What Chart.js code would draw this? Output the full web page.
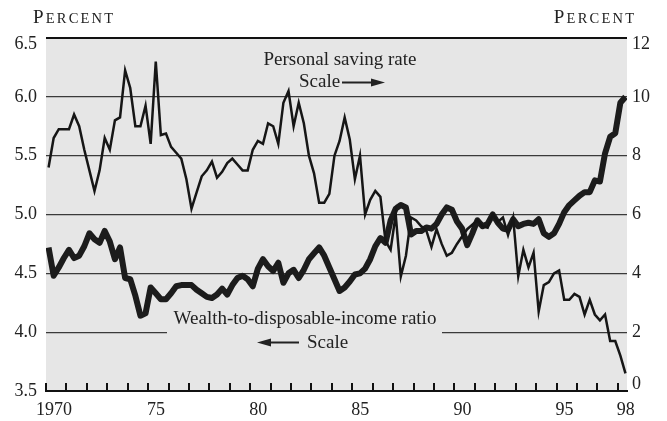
<!DOCTYPE html>
<html>
<head>
<meta charset="utf-8">
<script src="https://cdn.jsdelivr.net/npm/chart.js@4.4.1/dist/chart.umd.min.js"></script>
<style>
  html, body { margin: 0; padding: 0; background: #fff; }
  #wrap { width: 667px; height: 421px; }
</style>
</head>
<body>
<div id="wrap"><canvas id="chart" width="667" height="421"></canvas></div>
<script>
// quarterly, 1970Q1 - 1998Q2
const firstYear = 1970;

// personal saving rate, percent (right scale)
const savingRate = [
  7.6, 8.6, 8.9, 8.9,   8.9, 9.4, 9.0, 8.2,   7.5, 6.8, 7.5, 8.6,   8.2, 9.2, 9.3, 10.9,
  10.3, 9.0, 9.0, 9.7,  8.4, 11.2, 8.7, 8.75, 8.3, 8.1, 7.9, 7.2,   6.2, 6.75, 7.3, 7.5,
  7.8, 7.25, 7.45, 7.75, 7.9, 7.7, 7.5, 7.5, 8.2, 8.5, 8.4, 9.1,   9.0, 8.4, 9.8, 10.2,
  9.0, 9.8, 9.1, 8.0,   7.4, 6.4, 6.4, 6.7,   8.0, 8.5, 9.3, 8.55,  7.2, 8.0, 6.0, 6.5,
  6.8, 6.6, 5.1, 4.8,   6.0, 3.9, 4.6, 5.9,   5.8, 5.6, 5.45, 4.9,  5.5, 5.0, 4.6, 4.7,
  5.0, 5.25, 5.5, 5.65, 5.8, 5.6, 5.55, 6.0, 5.75, 5.9, 5.3, 5.9,  3.9, 4.8, 4.2, 4.7,
  2.7, 3.6, 3.7, 4.0,   4.1, 3.1, 3.1, 3.3,   3.2, 2.6, 3.1, 2.6,   2.4, 2.6, 1.7, 1.7,
  1.2, 0.6
];

// wealth-to-disposable-income ratio (left scale)
const wealthRatio = [
  4.72, 4.48, 4.55, 4.63, 4.70, 4.63, 4.65, 4.73, 4.84, 4.79, 4.76, 4.86, 4.77, 4.62, 4.72, 4.46,
  4.45, 4.31, 4.14, 4.16, 4.38, 4.33, 4.28, 4.28, 4.33, 4.39, 4.40, 4.40, 4.40, 4.36, 4.33, 4.30,
  4.29, 4.32, 4.37, 4.32, 4.40, 4.46, 4.48, 4.45, 4.39, 4.54, 4.62, 4.56, 4.52, 4.59, 4.42, 4.50,
  4.53, 4.46, 4.53, 4.62, 4.67, 4.72, 4.65, 4.55, 4.45, 4.35, 4.38, 4.43, 4.49, 4.50, 4.54, 4.62,
  4.73, 4.80, 4.76, 4.95, 5.05, 5.08, 5.06, 4.83, 4.86, 4.86, 4.89, 4.88, 4.92, 5.00, 5.06, 5.04,
  4.94, 4.88, 4.74, 4.84, 4.95, 4.90, 4.92, 5.00, 4.93, 4.88, 4.87, 4.96, 4.90, 4.92, 4.93, 4.92,
  4.96, 4.84, 4.81, 4.84, 4.92, 5.02, 5.08, 5.12, 5.16, 5.19, 5.19, 5.29, 5.28, 5.52, 5.66, 5.69,
  5.95, 6.00
];

const leftTicks = [3.5, 4.0, 4.5, 5.0, 5.5, 6.0, 6.5];
const rightTicks = [0, 2, 4, 6, 8, 10, 12];
const yearTicks = [1970, 1971, 1972, 1973, 1974, 1975, 1976, 1977, 1978, 1979, 1980, 1981, 1982, 1983,
  1984, 1985, 1986, 1987, 1988, 1989, 1990, 1991, 1992, 1993, 1994, 1995, 1996, 1997, 1998];
const labelYears = [1970, 1975, 1980, 1985, 1990, 1995, 1998];
const labelText = ['1970', '75', '80', '85', '90', '95', '98'];

const SERIF = "'Liberation Serif', 'DejaVu Serif', serif";
const INK = '#222';
const PLOT_BG = '#e6e6e6';

const toPoints = arr => arr.map((v, i) => ({ x: firstYear + (i + 0.5) / 4, y: v }));

function smallCaps(ctx, text, x, y, alignRight) {
  const big = '19px ' + SERIF, small = '14.5px ' + SERIF, gap = 2.2;
  ctx.font = big;
  const w0 = ctx.measureText(text[0]).width;
  ctx.font = small;
  let w = w0 + gap;
  for (const ch of text.slice(1)) w += ctx.measureText(ch).width + gap;
  w -= gap;
  let cx = alignRight ? x - w : x;
  ctx.textAlign = 'left';
  ctx.font = big;
  ctx.fillText(text[0], cx, y);
  cx += w0 + gap;
  ctx.font = small;
  for (const ch of text.slice(1)) {
    ctx.fillText(ch, cx, y);
    cx += ctx.measureText(ch).width + gap;
  }
}

function arrow(ctx, tail, tip, y) {
  const dir = tip > tail ? 1 : -1, head = 14;
  ctx.lineWidth = 2;
  ctx.beginPath();
  ctx.moveTo(tail, y);
  ctx.lineTo(tip - dir * head + dir, y);
  ctx.stroke();
  ctx.beginPath();
  ctx.moveTo(tip, y);
  ctx.lineTo(tip - dir * head, y - 4);
  ctx.lineTo(tip - dir * head, y + 4);
  ctx.closePath();
  ctx.fill();
}

const paper = {
  id: 'paper',
  beforeDraw(chart) {
    const { ctx, chartArea: a } = chart;
    ctx.save();
    ctx.fillStyle = PLOT_BG;
    ctx.fillRect(a.left, a.top, a.right - a.left, a.bottom - a.top);
    ctx.restore();
  },
  beforeDatasetsDraw(chart) {
    // the wealth label sits over the 4.0 grid line
    const { ctx } = chart;
    const gy = chart.scales.y.getPixelForValue(4.0);
    ctx.save();
    ctx.fillStyle = PLOT_BG;
    ctx.fillRect(167, gy - 4, 275, 8);
    ctx.restore();
  },
  afterDraw(chart) {
    const { ctx, chartArea: a } = chart;
    const xs = chart.scales.x;
    ctx.save();
    // year tick marks pointing up from the base line
    ctx.fillStyle = '#111';
    yearTicks.forEach(v => {
      const px = Math.round(xs.getPixelForValue(v));
      ctx.fillRect(px - 1, a.bottom - 8, 2, 9);
    });

    ctx.fillStyle = INK;
    ctx.strokeStyle = INK;
    ctx.textBaseline = 'alphabetic';
    smallCaps(ctx, 'PERCENT', 33, 23, false);
    smallCaps(ctx, 'PERCENT', 634, 23, true);

    ctx.font = '19px ' + SERIF;
    ctx.textAlign = 'center';
    ctx.fillText('Personal saving rate', 340, 65);
    ctx.fillText('Wealth-to-disposable-income ratio', 305, 324);
    ctx.textAlign = 'left';
    ctx.fillText('Scale', 299, 87);
    ctx.fillText('Scale', 307, 348);
    arrow(ctx, 342, 385, 82.5);
    arrow(ctx, 299, 257, 342.5);
    ctx.restore();
  }
};

new Chart(document.getElementById('chart'), {
  type: 'line',
  data: {
    datasets: [
      {
        label: 'Personal saving rate',
        data: toPoints(savingRate),
        yAxisID: 'y1',
        borderColor: '#161616',
        borderWidth: 2.5,
        borderJoinStyle: 'miter',
        pointRadius: 0,
        tension: 0
      },
      {
        label: 'Wealth-to-disposable-income ratio',
        data: toPoints(wealthRatio),
        yAxisID: 'y',
        borderColor: '#1c1c1c',
        borderWidth: 6,
        borderJoinStyle: 'round',
        pointRadius: 0,
        tension: 0
      }
    ]
  },
  options: {
    responsive: false,
    devicePixelRatio: 1,
    animation: false,
    layout: { padding: { top: 38, left: 0, right: 0, bottom: 0 } },
    plugins: { legend: { display: false }, tooltip: { enabled: false } },
    scales: {
      x: {
        type: 'linear',
        min: 1970,
        max: 1998.45,
        afterBuildTicks: s => { s.ticks = yearTicks.map(v => ({ value: v })); },
        afterFit: s => { s.height = 30; },
        grid: { drawOnChartArea: false, drawTicks: false },
        border: { display: true, color: '#111', width: 2 },
        ticks: {
          autoSkip: false,
          maxRotation: 0,
          padding: 8,
          labelOffset: 8,
          color: INK,
          font: { family: SERIF, size: 18 },
          callback: v => {
            const k = labelYears.indexOf(v);
            return k < 0 ? '' : labelText[k];
          }
        }
      },
      y: {
        position: 'left',
        min: 3.5,
        max: 6.5,
        afterBuildTicks: s => { s.ticks = leftTicks.map(v => ({ value: v })); },
        afterFit: s => { s.width = 46; },
        grid: {
          drawTicks: false,
          color: c => (c.tick && c.tick.value === 6.5) ? '#111' : '#3a3a3a',
          lineWidth: c => (c.tick && c.tick.value === 6.5) ? 2 : 1.3
        },
        border: { display: false },
        ticks: {
          padding: 9,
          color: INK,
          font: { family: SERIF, size: 18, lineHeight: 0.75 },
          callback: v => v === 6.5 ? ['', '6.5'] : v.toFixed(1)
        }
      },
      y1: {
        position: 'right',
        min: 0,
        max: 12,
        afterBuildTicks: s => { s.ticks = rightTicks.map(v => ({ value: v })); },
        afterFit: s => { s.width = 40; },
        grid: { drawOnChartArea: false, drawTicks: false },
        border: { display: false },
        ticks: {
          padding: 5,
          color: INK,
          font: { family: SERIF, size: 18, lineHeight: 0.75 },
          callback: v => v === 12 ? ['', '12'] : (v === 0 ? ['0', ''] : String(v))
        }
      }
    }
  },
  plugins: [paper]
});
</script>
</body>
</html>
